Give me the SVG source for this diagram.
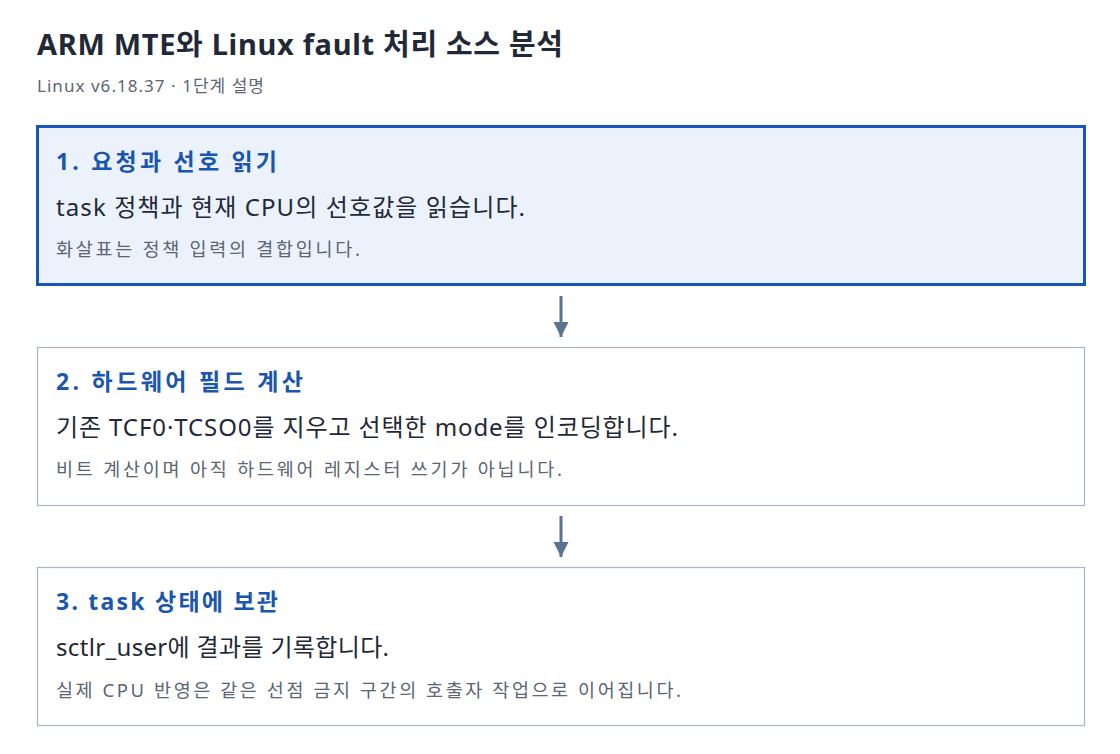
<svg xmlns="http://www.w3.org/2000/svg" width="1120" height="754" viewBox="0 0 1120 754">
<style>
text{font-family:"Noto Sans","Noto Sans CJK KR",sans-serif}
.title{font-size:29px;font-weight:700;fill:#1f2937}
.subtitle{font-size:17px;fill:#5b6573}
.box{fill:#ffffff;stroke:#aab4c3;stroke-width:1.2}
.box.active{fill:#ebf2fc;stroke:#1a56b8;stroke-width:3}
.h{font-size:23px;font-weight:700;fill:#1a56b0}
.m{font-size:24px;fill:#1f2937}
.s{font-size:18.5px;fill:#5b6573}
.conn{stroke:#5a7390;stroke-width:3;fill:none}
</style>
<defs>
<marker id="ah" viewBox="0 0 10 10" refX="10" refY="5" markerWidth="5" markerHeight="5" orient="auto" markerUnits="strokeWidth">
<path d="M0,0 L10,5 L0,10 z" fill="#5a7390"/>
</marker>
</defs>
<text class="title" x="37" y="55" textLength="526" lengthAdjust="spacing">ARM MTE와 Linux fault 처리 소스 분석</text>
<text class="subtitle" x="37" y="92" textLength="227" lengthAdjust="spacing">Linux v6.18.37 · 1단계 설명</text>
<g id="connectors">
<line class="conn" x1="561" y1="296" x2="561" y2="337" marker-end="url(#ah)"/>
<line class="conn" x1="561" y1="516" x2="561" y2="557" marker-end="url(#ah)"/>
</g>
<g id="step1">
<rect class="box active" x="37.5" y="126.5" width="1047" height="158"/>
<text class="h" x="56" y="170" textLength="221" lengthAdjust="spacing">1. 요청과 선호 읽기</text>
<text class="m" x="56" y="216" textLength="469" lengthAdjust="spacing">task 정책과 현재 CPU의 선호값을 읽습니다.</text>
<text class="s" x="56" y="256" textLength="304" lengthAdjust="spacing">화살표는 정책 입력의 결합입니다.</text>
</g>
<g id="step2">
<rect class="box" x="37.5" y="347.5" width="1047" height="158"/>
<text class="h" x="56" y="390" textLength="247" lengthAdjust="spacing">2. 하드웨어 필드 계산</text>
<text class="m" x="56" y="436" textLength="622" lengthAdjust="spacing">기존 TCF0·TCSO0를 지우고 선택한 mode를 인코딩합니다.</text>
<text class="s" x="56" y="476" textLength="506" lengthAdjust="spacing">비트 계산이며 아직 하드웨어 레지스터 쓰기가 아닙니다.</text>
</g>
<g id="step3">
<rect class="box" x="37.5" y="567.5" width="1047" height="158"/>
<text class="h" x="56" y="610" textLength="222" lengthAdjust="spacing">3. task 상태에 보관</text>
<text class="m" x="56" y="656" textLength="333" lengthAdjust="spacing">sctlr_user에 결과를 기록합니다.</text>
<text class="s" x="56" y="697" textLength="625" lengthAdjust="spacing">실제 CPU 반영은 같은 선점 금지 구간의 호출자 작업으로 이어집니다.</text>
</g>
</svg>
